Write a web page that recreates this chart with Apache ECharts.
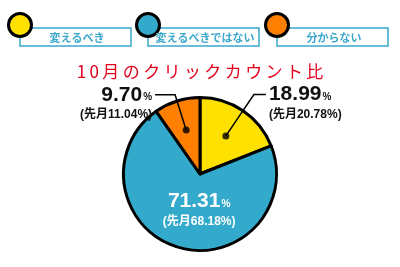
<!DOCTYPE html>
<html>
<head>
<meta charset="utf-8">
<script src="https://cdn.jsdelivr.net/npm/echarts@6/dist/echarts.min.js"></script>
<style>html,body{margin:0;padding:0;background:#fff}#c{width:400px;height:267px}</style>
</head>
<body>
<div id="c"></div>
<script>
const categories = ['変えるべき', '変えるべきではない', '分からない'];
const values = [18.99, 71.31, 9.70];
const prevValues = [20.78, 68.18, 11.04];
const colors = ['#ffe100', '#33aacc', '#ff7f00'];
const titleText = '10月のクリックカウント比';

const total = values.reduce((a, b) => a + b, 0);
const mids = [];
let acc = 0;
values.forEach(v => { mids.push((acc + v / 2) / total * 100); acc += v; });

const FONT = "'Liberation Sans', 'Noto Sans CJK JP', sans-serif";
const JFONT = "'Noto Sans CJK JP', sans-serif";
const LINE_COLOR = '#3aa8cc';

function fmt(p) {
  const i = p.dataIndex;
  return '{big|' + values[i].toFixed(2) + '}{pct|%}\n{sub|(先月' + prevValues[i].toFixed(2) + '%)}';
}

const richDark = {
  big: {fontSize: 21, fontWeight: 'bold', color: '#111', fontFamily: FONT, lineHeight: 24},
  pct: {fontSize: 10, fontWeight: 'bold', color: '#111', fontFamily: FONT, padding: [5, 0, 0, 1]},
  sub: {fontSize: 12, fontWeight: 'bold', color: '#111', fontFamily: FONT, lineHeight: 16}
};
const richLight = {
  big: {fontSize: 21, fontWeight: 'bold', color: '#fff', fontFamily: FONT, lineHeight: 24, align: 'center'},
  pct: {fontSize: 10, fontWeight: 'bold', color: '#fff', fontFamily: FONT, padding: [5, 0, 0, 1]},
  sub: {fontSize: 12, fontWeight: 'bold', color: '#fff', fontFamily: FONT, lineHeight: 16, align: 'center'}
};

const legendLeft = [20, 148, 277];
const graphics = [];
categories.forEach((c, i) => {
  const x = legendLeft[i];
  graphics.push({type: 'rect', shape: {x: x, y: 28, width: 111, height: 18},
    style: {fill: '#fff', stroke: LINE_COLOR, lineWidth: 1.5}, z: 10});
  graphics.push({type: 'circle', shape: {cx: x, cy: 25, r: 11.5},
    style: {fill: colors[i], stroke: '#000', lineWidth: 3}, z: 11});
  graphics.push({type: 'text', style: {text: c, x: x + 57, y: 37.5, align: 'center', verticalAlign: 'middle',
    fill: LINE_COLOR, font: 'bold 11px ' + JFONT}, z: 12});
});

const chart = echarts.init(document.getElementById('c'), null, {renderer: 'canvas'});
chart.setOption({
  animation: false,
  title: {
    text: titleText.split('').join('\u2009'),
    left: 'center', top: 58,
    textStyle: {color: '#e3001b', fontSize: 17, fontWeight: 'normal', fontFamily: JFONT}
  },
  graphic: graphics,
  polar: {center: [200, 174], radius: 78},
  angleAxis: {type: 'value', min: 0, max: 100, startAngle: 90, clockwise: true, show: false},
  radiusAxis: {type: 'value', min: 0, max: 1, show: false},
  series: [
    {
      type: 'pie', center: [200, 174], radius: 76.5, startAngle: 90, clockwise: true,
      avoidLabelOverlap: false, silent: true, z: 2,
      itemStyle: {borderColor: '#000', borderWidth: 3},
      labelLine: {show: false},
      data: values.map((v, i) => ({
        value: v, name: categories[i], itemStyle: {color: colors[i]},
        label: {show: i === 1, position: 'inside', formatter: fmt, rich: richLight, offset: [11, -4]}
      }))
    },
    {
      type: 'pie', center: [200, 174], radius: 46, startAngle: 90, clockwise: true,
      avoidLabelOverlap: false, silent: true, z: 3,
      itemStyle: {color: 'rgba(0,0,0,0)', borderWidth: 0},
      data: values.map((v, i) => ({
        value: v, name: categories[i],
        label: {show: i !== 1, position: 'outside', formatter: fmt, rich: richDark,
          padding: [16, 0, 0, 0], distanceToLabelLine: 3},
        labelLine: {show: i !== 1, length: i === 0 ? 50 : 37, length2: i === 0 ? 12 : 20,
          lineStyle: {color: '#000', width: 1.5}}
      }))
    },
    {
      type: 'scatter', coordinateSystem: 'polar', symbol: 'circle', symbolSize: 7, silent: true, z: 4,
      itemStyle: {color: '#000'},
      data: mids.filter((m, i) => i !== 1).map(m => [0.59, m])
    }
  ]
});
</script>
</body>
</html>
